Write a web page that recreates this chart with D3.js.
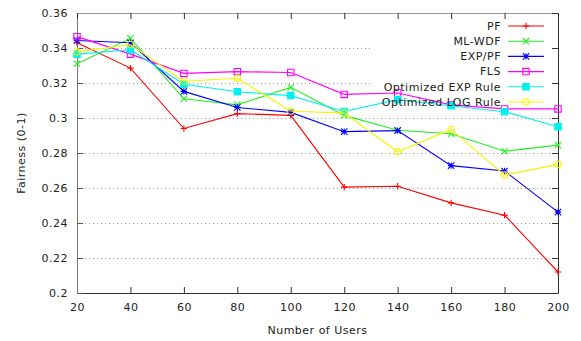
<!DOCTYPE html>
<html>
<head>
<meta charset="utf-8">
<script src="https://cdn.jsdelivr.net/npm/d3@7/dist/d3.min.js"></script>
<style>
  html, body { margin: 0; padding: 0; background: #fff; }
  svg { display: block; }
  text { font-family: "DejaVu Sans", sans-serif; fill: #222; }
</style>
</head>
<body>
<div id="chart"></div>
<script>
// Number of users on the x axis
const users = [20, 40, 60, 80, 100, 120, 140, 160, 180, 200];

// Fairness index per scheduler
const pf      = [0.343, 0.3285, 0.294, 0.3025, 0.3015, 0.2605, 0.261, 0.2515, 0.2445, 0.212];
const mlwdf   = [0.331, 0.3455, 0.311, 0.3075, 0.3175, 0.3015, 0.293, 0.291, 0.281, 0.2845];
const exppf   = [0.3443, 0.343, 0.3152, 0.306, 0.3032, 0.2922, 0.2928, 0.2728, 0.2697, 0.2462];
const fls     = [0.3465, 0.3365, 0.3255, 0.3265, 0.326, 0.3135, 0.3143, 0.3075, 0.3052, 0.3052];
const optExp  = [0.3365, 0.339, 0.3193, 0.315, 0.3128, 0.3037, 0.3105, 0.307, 0.3036, 0.295];
const optLog  = [0.3378, 0.342, 0.321, 0.3227, 0.304, 0.3028, 0.2807, 0.2935, 0.2674, 0.2735];

const seriesNames = ["PF", "ML-WDF", "EXP/PF", "FLS", "Optimized EXP Rule", "Optimized LOG Rule"];
const seriesValues = [pf, mlwdf, exppf, fls, optExp, optLog];
const seriesColors = ["#ff0000", "#22ee22", "#0000ff", "#ff00ff", "#00f0f0", "#f5f500"];
const seriesMarkers = ["plus", "cross", "star", "square", "squareFilled", "circle"];

const xTicks = [20, 40, 60, 80, 100, 120, 140, 160, 180, 200];
const yTicks = [0.2, 0.22, 0.24, 0.26, 0.28, 0.3, 0.32, 0.34, 0.36];
const yTickLabels = ["0.2", "0.22", "0.24", "0.26", "0.28", "0.3", "0.32", "0.34", "0.36"];

const W = 581, H = 341;
const margin = { left: 77, top: 13, right: 23, bottom: 48 };
const iw = W - margin.left - margin.right;   // 481
const ih = H - margin.top - margin.bottom;   // 280

const x = d3.scaleLinear().domain([20, 200]).range([0, iw]);
const y = d3.scaleLinear().domain([0.2, 0.36]).range([ih, 0]);

const svg = d3.select("#chart").append("svg")
  .attr("width", W).attr("height", H);

const g = svg.append("g").attr("transform", `translate(${margin.left},${margin.top})`);

// Legend geometry (inside the plot, top right)
const legendRight = 501 - margin.left;     // right edge of the labels
const legendTop = 26 - margin.top;          // centre of the first row
const legendStep = 15.2;
const legendBoxLeft = 372 - margin.left;

// Dotted horizontal grid
g.append("g").selectAll("line")
  .data(yTicks.filter(v => v > 0.2 && v < 0.36))
  .join("line")
  .attr("x1", 0).attr("x2", iw)
  .attr("y1", d => Math.round(y(d)) + 0.5).attr("y2", d => Math.round(y(d)) + 0.5)
  .attr("stroke", "#999").attr("stroke-width", 1)
  .attr("stroke-dasharray", "1,3");

// Legend background keeps the grid out of the key area
g.append("rect")
  .attr("x", legendBoxLeft).attr("y", 4)
  .attr("width", iw - legendBoxLeft - 2)
  .attr("height", legendTop + legendStep * 5 + 7 - 4)
  .attr("fill", "#fff");

// Axes: bottom and left with labels, top and right as mirrored ticks
const xAxis = d3.axisBottom(x).tickValues(xTicks).tickSizeInner(-6).tickSizeOuter(0).tickPadding(10);
const xa = g.append("g").attr("transform", `translate(0,${ih})`).call(xAxis);
xa.select(".domain").attr("stroke", "#333");
xa.selectAll(".tick line").attr("stroke", "#333");
xa.selectAll("text").attr("font-size", 11).attr("letter-spacing", "0.5px").attr("fill", "#222")
  .attr("font-family", "DejaVu Sans, sans-serif");

const yAxis = d3.axisLeft(y).tickValues(yTicks).tickFormat((d, i) => yTickLabels[i])
  .tickSizeInner(-6).tickSizeOuter(0).tickPadding(9);
const ya = g.append("g").call(yAxis);
ya.select(".domain").attr("stroke", "#777");
ya.selectAll(".tick line").attr("stroke", "#555");
ya.selectAll("text").attr("font-size", 11).attr("letter-spacing", "0.5px").attr("fill", "#222")
  .attr("font-family", "DejaVu Sans, sans-serif");

const xTop = d3.axisTop(x).tickValues(xTicks).tickSizeInner(-6).tickSizeOuter(0).tickFormat("");
const xt = g.append("g").call(xTop);
xt.select(".domain").attr("stroke", "#999");
xt.selectAll(".tick line").attr("stroke", "#333");

const yRight = d3.axisRight(y).tickValues(yTicks).tickSizeInner(-6).tickSizeOuter(0).tickFormat("");
const yr = g.append("g").attr("transform", `translate(${iw},0)`).call(yRight);
yr.select(".domain").attr("stroke", "#333");
yr.selectAll(".tick line").attr("stroke", "#333");

// Marker shapes
function markerPath(type, s) {
  switch (type) {
    case "plus":
      return `M${-s},0H${s}M0,${-s}V${s}`;
    case "cross":
      return `M${-s},${-s}L${s},${s}M${-s},${s}L${s},${-s}`;
    case "star":
      return `M${-s},0H${s}M0,${-s}V${s}M${-s},${-s}L${s},${s}M${-s},${s}L${s},${-s}`;
    case "square":
    case "squareFilled":
      return `M${-s},${-s}H${s}V${s}H${-s}Z`;
    case "circle":
      return d3.arc()({ innerRadius: 0, outerRadius: s, startAngle: 0, endAngle: 2 * Math.PI });
  }
}

const line = d3.line().x((d, i) => x(users[i])).y(d => y(d));

seriesValues.forEach((vals, k) => {
  const color = seriesColors[k];
  const type = seriesMarkers[k];
  const sg = g.append("g");
  sg.append("path")
    .datum(vals)
    .attr("d", line)
    .attr("fill", "none")
    .attr("stroke", color)
    .attr("stroke-width", 1.1);
  sg.selectAll("path.m")
    .data(vals)
    .join("path")
    .attr("class", "m")
    .attr("transform", (d, i) => `translate(${x(users[i])},${y(d)})`)
    .attr("d", markerPath(type, 3.2))
    .attr("fill", type === "squareFilled" ? color : "none")
    .attr("stroke", color)
    .attr("stroke-width", 1.1);
});

// Legend
const lg = g.append("g");
seriesNames.forEach((name, k) => {
  const cy = legendTop + k * legendStep;
  const color = seriesColors[k];
  const type = seriesMarkers[k];
  lg.append("text")
    .attr("x", legendRight).attr("y", cy)
    .attr("dy", "0.35em")
    .attr("text-anchor", "end")
    .attr("font-size", 11)
    .attr("letter-spacing", "0.5px")
    .text(name);
  lg.append("line")
    .attr("x1", 508 - margin.left).attr("x2", 544 - margin.left)
    .attr("y1", cy).attr("y2", cy)
    .attr("stroke", color).attr("stroke-width", 1.1);
  lg.append("path")
    .attr("transform", `translate(${526 - margin.left},${cy})`)
    .attr("d", markerPath(type, 3.2))
    .attr("fill", type === "squareFilled" ? color : "none")
    .attr("stroke", color).attr("stroke-width", 1.1);
});

// Axis titles
svg.append("text")
  .attr("x", margin.left + iw / 2).attr("y", 334)
  .attr("text-anchor", "middle")
  .attr("font-size", 11).attr("letter-spacing", "0.5px")
  .text("Number of Users");

svg.append("text")
  .attr("transform", `translate(25,${margin.top + ih / 2}) rotate(-90)`)
  .attr("text-anchor", "middle")
  .attr("font-size", 11).attr("letter-spacing", "0.5px")
  .text("Fairness (0-1)");
</script>
</body>
</html>
